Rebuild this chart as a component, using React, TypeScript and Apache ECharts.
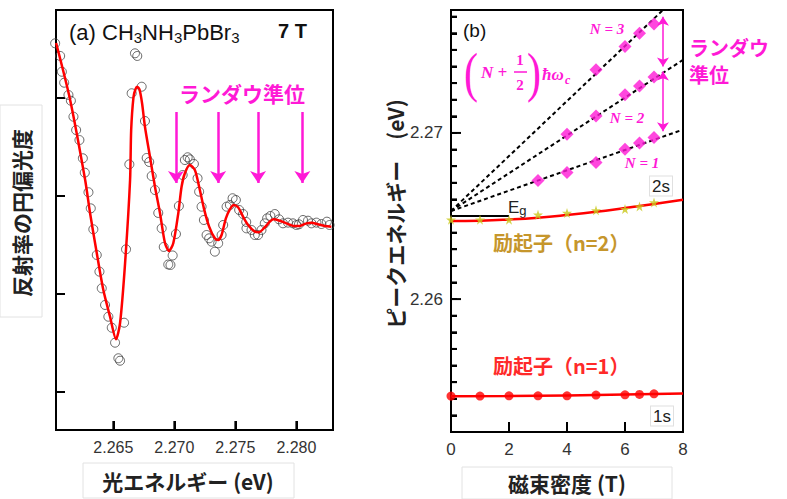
import React, { useEffect, useRef } from 'react';
import * as echarts from 'echarts';

// ---------- Panel (a): circular polarization of reflectance vs photon energy ----------
const aXTicks = [2.265, 2.27, 2.275, 2.28];
const aYTicks = [0, 1, 2, 3];
const aDataX = [
  2.26023, 2.26064, 2.26078, 2.26097, 2.26132, 2.26152, 2.26173, 2.26195, 2.26222, 2.2625,
  2.26266, 2.26296, 2.26315, 2.26336, 2.26364, 2.26386, 2.26405, 2.26432, 2.26459, 2.26487,
  2.26514, 2.26541, 2.26555, 2.26588, 2.26604, 2.26631, 2.2665, 2.26677, 2.26696, 2.26732,
  2.26759, 2.26773, 2.26794, 2.26814, 2.26841, 2.26868, 2.26896, 2.26913, 2.2695, 2.26968,
  2.26986, 2.27013, 2.27037, 2.27068, 2.27086, 2.27109, 2.27127, 2.2716, 2.2719, 2.27203,
  2.27223, 2.27242, 2.27264, 2.27285, 2.27305, 2.27332, 2.27359, 2.27387, 2.274, 2.27428,
  2.27455, 2.27477, 2.27504, 2.27531, 2.27563, 2.27589, 2.27591, 2.27632, 2.27659, 2.27686,
  2.27714, 2.27741, 2.2776, 2.27787, 2.27823, 2.27858, 2.2789, 2.27931, 2.27972, 2.28,
  2.28021, 2.28054, 2.28095, 2.28123, 2.28164, 2.28205, 2.2825, 2.28272,
];
const aDataY = [
  3.558, 3.429, 3.268, 3.156, 3.031, 2.972, 2.809, 2.673, 2.571, 2.385,
  2.238, 2.038, 1.874, 1.66, 1.398, 1.228, 1.058, 0.888, 0.768, 0.656,
  0.503, 0.344, 0.319, 0.707, 1.456, 2.323, 3.048, 3.456, 3.429, 3.115,
  2.765, 2.388, 2.347, 2.204, 2.061, 1.827, 1.67, 1.48, 1.301, 1.296,
  1.393, 1.612, 1.898, 2.214, 2.367, 2.395, 2.374, 2.327, 2.181, 2.044,
  1.891, 1.755, 1.602, 1.568, 1.534, 1.432, 1.517, 1.602, 1.704, 1.891,
  1.908, 1.977, 1.959, 1.857, 1.816, 1.735, 1.67, 1.653, 1.602, 1.602,
  1.653, 1.721, 1.772, 1.796, 1.816, 1.762, 1.721, 1.728, 1.721, 1.704,
  1.711, 1.755, 1.748, 1.721, 1.728, 1.714, 1.738, 1.704,
];
const aFitX = [
  2.26031, 2.26146, 2.26269, 2.26309, 2.26364, 2.26418, 2.26473, 2.26522, 2.26555, 2.26596,
  2.26637, 2.26646, 2.26665, 2.26682, 2.26696, 2.26714, 2.26735, 2.26759, 2.268, 2.26841,
  2.26882, 2.26923, 2.26956, 2.26991, 2.27032, 2.27059, 2.27086, 2.27127, 2.27168, 2.27203,
  2.27242, 2.27285, 2.27332, 2.27359, 2.27387, 2.27422, 2.27455, 2.27487, 2.27522, 2.27563,
  2.27604, 2.27659, 2.27694, 2.27741, 2.27782, 2.27809, 2.27863, 2.27918, 2.27986, 2.28027,
  2.28082, 2.28123, 2.28177, 2.28232, 2.28287,
];
const aFitY = [
  3.561, 2.98, 2.163, 1.827, 1.418, 1.041, 0.768, 0.538, 0.704, 1.313,
  2.163, 2.673, 3.01, 3.092, 3.115, 3.087, 2.949, 2.707, 2.401, 2.095,
  1.827, 1.52, 1.439, 1.517, 1.823, 2.095, 2.232, 2.316, 2.265, 2.095,
  1.874, 1.687, 1.568, 1.551, 1.602, 1.772, 1.864, 1.908, 1.885, 1.789,
  1.704, 1.636, 1.63, 1.681, 1.738, 1.762, 1.748, 1.721, 1.694, 1.694,
  1.721, 1.728, 1.711, 1.694, 1.687,
];
const aLandauArrowX = [2.27013, 2.27359, 2.27686, 2.28049];
const aLandauArrowY = [2.857, 2.133];

// ---------- Panel (b): peak energy vs magnetic field ----------
const bXTicks = [2, 4, 6];
const bYMajor = [2.26, 2.27];
const bYMinor = [
  2.253, 2.254, 2.255, 2.256, 2.257, 2.258, 2.259, 2.26, 2.261, 2.262, 2.263, 2.264,
  2.265, 2.266, 2.267, 2.268, 2.269, 2.27, 2.271, 2.272, 2.273, 2.274, 2.275, 2.276, 2.277,
];
const bField = [0, 1, 2, 3, 4, 5, 6, 6.5, 7];
const b1sE = [2.25416, 2.25416, 2.25418, 2.25418, 2.25418, 2.25422, 2.25424, 2.25426, 2.2543];
const b1sFitB = [0, 2, 4, 6, 8];
const b1sFitE = [2.25415, 2.25417, 2.2542, 2.25425, 2.25432];
const b2sE = [2.26478, 2.26478, 2.26478, 2.26508, 2.26518, 2.26534, 2.26542, 2.26558, 2.26582];
const b2sFitB = [0, 1, 2, 3, 4, 5, 6, 7, 8];
const b2sFitE = [2.2647, 2.26472, 2.26479, 2.2649, 2.26506, 2.26525, 2.26548, 2.26572, 2.26598];
const bN1B = [3, 4, 5, 6, 6.5, 7];
const bN1E = [2.26714, 2.26762, 2.26822, 2.26902, 2.2694, 2.26972];
const bN2B = [4, 5, 6, 6.5, 7];
const bN2E = [2.26992, 2.27102, 2.2723, 2.27282, 2.27336];
const bN3B = [5, 6, 6.5, 7];
const bN3E = [2.2738, 2.2752, 2.276, 2.27656];
const bLandauStart = [0, 2.2653];
const bLandauEndB = 8;
const bLandauEndE = [2.2702, 2.2744, 2.27854];
const bEg = 2.265;
const bEgEndB = 2;
const bArrowB = 7.31;
const bArrowSpans = [
  [2.277, 2.274],
  [2.2737, 2.2701],
];

const A_XMIN = 2.2603, A_XMAX = 2.283, A_YMIN = -0.388, A_YMAX = 3.898;
const B_XMIN = 0, B_XMAX = 8, B_YMIN = 2.252, B_YMAX = 2.2774;
const GRID_A = { left: 56, top: 10, width: 277, height: 420 };
const GRID_B = { left: 451, top: 10, width: 232, height: 422 };

const PINK = '#ff19d6';
const GOLD = '#c6962c';
const STAR = '#c9c81c';
const SANS = '"Liberation Sans", "Noto Sans CJK JP", sans-serif';
const CJK = '"Noto Sans CJK JP", "Liberation Sans", sans-serif';
const SERIF = '"Liberation Serif", "DejaVu Serif", serif';
const STAR_PATH =
  'path://M50,0 L61,35 L98,35 L68,57 L79,91 L50,70 L21,91 L32,57 L2,35 L39,35 Z';

const isMajor = (v: number) => bYMajor.some((m) => Math.abs(m - v) < 1e-7);

const zip = (xs: number[], ys: number[]) =>
  xs.slice(0, Math.min(xs.length, ys.length)).map((x, i) => [x, ys[i]]);

const txt = (x: number, y: number, text: string, style: any, extra: any = {}) => ({
  type: 'text',
  x,
  y,
  ...extra,
  style: { text, align: 'left', verticalAlign: 'middle', ...style },
});

// a tick drawn exactly like the E_g segment: a plain two-point line series
const tickLine = (xAxisIndex: number, yAxisIndex: number, p1: number[], p2: number[]) => ({
  type: 'line',
  xAxisIndex,
  yAxisIndex,
  showSymbol: false,
  lineStyle: { color: '#000', width: 2 },
  data: [p1, p2],
  z: 3,
});

export default function App() {
  const ref = useRef<HTMLDivElement>(null);

  useEffect(() => {
    if (!ref.current) return;
    const chart = echarts.init(ref.current, null, { renderer: 'svg' });

    const axisLine = { show: true, onZero: false, lineStyle: { color: '#000', width: 2 } };
    const tickStyle = { color: '#000', width: 2 };
    const labelStyle = { fontSize: 16, color: '#333', fontFamily: SANS };

    const aYPerPx = (A_YMAX - A_YMIN) / GRID_A.height;
    const bYPerPx = (B_YMAX - B_YMIN) / GRID_B.height;
    const bXPerPx = (B_XMAX - B_XMIN) / GRID_B.width;

    const tickSeries = [
      ...aXTicks.map((v) => tickLine(0, 0, [v, A_YMIN + 0.5 * aYPerPx], [v, A_YMIN + 9 * aYPerPx])),
      ...bXTicks.map((v) => tickLine(1, 1, [v, B_YMIN + 0.5 * bYPerPx], [v, B_YMIN + 10 * bYPerPx])),
      ...bYMinor.map((v) => tickLine(1, 1, [B_XMIN + 0.5 * bXPerPx, v], [B_XMIN + (isMajor(v) ? 10 : 6) * bXPerPx, v])),
    ];

    const graphics: any[] = [
      // label boxes
      { type: 'rect', shape: { x: 0, y: 105, width: 42, height: 212 }, style: { fill: 'none', stroke: '#e2e2e2', lineWidth: 1 } },
      { type: 'rect', shape: { x: 83, y: 463, width: 211, height: 35 }, style: { fill: 'none', stroke: '#e2e2e2', lineWidth: 1 } },
      { type: 'rect', shape: { x: 462, y: 467, width: 210, height: 32 }, style: { fill: 'none', stroke: '#e2e2e2', lineWidth: 1 } },
      // axis titles
      txt(21, 213, '反射率の円偏光度', { fontSize: 21, fontWeight: 'bold', fontFamily: CJK, fill: '#222', align: 'center' }, { rotation: Math.PI / 2 }),
      txt(188, 481, '光エネルギー (eV)', { fontSize: 21, fontWeight: 'bold', fontFamily: CJK, fill: '#222', align: 'center' }),
      txt(395, 214, 'ピークエネルギー　(eV)', { fontSize: 21, fontWeight: 'bold', fontFamily: CJK, fill: '#222', align: 'center' }, { rotation: Math.PI / 2 }),
      txt(567, 483, '磁束密度 (T)', { fontSize: 21, fontWeight: 'bold', fontFamily: CJK, fill: '#222', align: 'center' }),
      // panel (a) annotations
      txt(69, 32, '(a) CH{s|3}NH{s|3}PbBr{s|3}', {
        fontSize: 22, fontFamily: SANS, fill: '#111', lineHeight: 26,
        rich: { s: { fontSize: 15, fontFamily: SANS, fill: '#111', verticalAlign: 'bottom', lineHeight: 15 } },
      }),
      txt(278, 31, '7 T', { fontSize: 20, fontWeight: 'bold', fontFamily: SANS, fill: '#111' }),
      txt(242, 93, 'ランダウ準位', { fontSize: 21, fontWeight: 'bold', fontFamily: CJK, fill: PINK, align: 'center' }),
      // panel (b) annotations
      txt(463, 30, '(b)', { fontSize: 19, fontFamily: SANS, fill: '#111' }),
      txt(607, 29, 'N = 3', { fontSize: 15, fontWeight: 'bold', fontStyle: 'italic', fontFamily: SERIF, fill: PINK, align: 'center' }),
      txt(627, 118, 'N = 2', { fontSize: 15, fontWeight: 'bold', fontStyle: 'italic', fontFamily: SERIF, fill: PINK, align: 'center' }),
      txt(642, 163, 'N = 1', { fontSize: 15, fontWeight: 'bold', fontStyle: 'italic', fontFamily: SERIF, fill: PINK, align: 'center' }),
      txt(471, 73, '(', { fontSize: 42, fontFamily: SERIF, fill: PINK, align: 'center' }, { scaleY: 1.3 }),
      txt(481, 72, 'N +', { fontSize: 17, fontWeight: 'bold', fontStyle: 'italic', fontFamily: SERIF, fill: PINK }),
      txt(520, 60, '1', { fontSize: 15, fontWeight: 'bold', fontFamily: SERIF, fill: PINK, align: 'center' }),
      { type: 'line', shape: { x1: 514, y1: 72, x2: 527, y2: 72 }, style: { stroke: PINK, lineWidth: 1.5 } },
      txt(520, 85, '2', { fontSize: 15, fontWeight: 'bold', fontFamily: SERIF, fill: PINK, align: 'center' }),
      txt(534, 73, ')', { fontSize: 42, fontFamily: SERIF, fill: PINK, align: 'center' }, { scaleY: 1.3 }),
      txt(542, 74, 'ħω', { fontSize: 17, fontWeight: 'bold', fontStyle: 'italic', fontFamily: SERIF, fill: PINK }),
      txt(565, 80, 'c', { fontSize: 12, fontWeight: 'bold', fontStyle: 'italic', fontFamily: SERIF, fill: PINK }),
      txt(689, 61, 'ランダウ\n準位', { fontSize: 20, fontWeight: 'bold', fontFamily: CJK, fill: PINK, lineHeight: 27 }),
      txt(661, 186, '2s', { fontSize: 17, fontFamily: SANS, fill: '#222', align: 'center', backgroundColor: '#fff', borderColor: '#e0e0e0', borderWidth: 1, padding: [1, 2] }),
      txt(662, 416, '1s', { fontSize: 17, fontFamily: SANS, fill: '#222', align: 'center', backgroundColor: '#fff', borderColor: '#e0e0e0', borderWidth: 1, padding: [1, 2] }),
      txt(493, 242, '励起子（n=2）', { fontSize: 20, fontWeight: 'bold', fontFamily: CJK, fill: GOLD }),
      txt(493, 365, '励起子（n=1）', { fontSize: 20, fontWeight: 'bold', fontFamily: CJK, fill: '#ff2a2a' }),
      txt(508, 207, 'E{g|g}', {
        fontSize: 17, fontFamily: SANS, fill: '#222', lineHeight: 20,
        rich: { g: { fontSize: 13, fontFamily: SANS, fill: '#222', verticalAlign: 'bottom', lineHeight: 12 } },
      }),
    ];

    const option: any = {
      animation: false,
      backgroundColor: '#fff',
      grid: [
        { ...GRID_A, show: true, borderColor: '#000', borderWidth: 2, backgroundColor: 'transparent' },
        { ...GRID_B, show: true, borderColor: '#000', borderWidth: 2, backgroundColor: 'transparent' },
      ],
      xAxis: [
        {
          gridIndex: 0, type: 'value', min: A_XMIN, max: A_XMAX,
          axisLine,
          axisTick: { show: true, customValues: aXTicks, inside: true, length: 9, lineStyle: tickStyle },
          axisLabel: { customValues: aXTicks, formatter: (v: number) => v.toFixed(3), margin: 9, ...labelStyle },
          splitLine: { show: false },
        },
        {
          gridIndex: 1, type: 'value', min: B_XMIN, max: B_XMAX, interval: 2,
          axisLine,
          axisTick: { show: true, inside: true, length: 10, lineStyle: tickStyle },
          axisLabel: { margin: 9, ...labelStyle, fontSize: 17 },
          splitLine: { show: false },
        },
      ],
      yAxis: [
        {
          gridIndex: 0, type: 'value', min: A_YMIN, max: A_YMAX,
          axisLine,
          axisTick: { show: true, customValues: aYTicks, inside: true, length: 9, lineStyle: tickStyle },
          axisLabel: { show: false },
          splitLine: { show: false },
        },
        {
          gridIndex: 1, type: 'value', min: B_YMIN, max: B_YMAX, interval: 0.001,
          axisLine,
          axisTick: { show: true, inside: true, length: 6, lineStyle: tickStyle },
          axisLabel: {
            margin: 8, ...labelStyle, fontSize: 17,
            formatter: (v: number) => (isMajor(v) ? v.toFixed(2) : ''),
          },
          splitLine: { show: false },
        },
      ],
      series: [
        {
          type: 'scatter', xAxisIndex: 0, yAxisIndex: 0, clip: false,
          symbol: 'circle', symbolSize: 9,
          itemStyle: { color: 'rgba(0,0,0,0)', borderColor: '#444', borderWidth: 1 },
          data: zip(aDataX, aDataY), z: 2,
        },
        {
          type: 'line', xAxisIndex: 0, yAxisIndex: 0, clip: false,
          smooth: 0.25, showSymbol: false,
          lineStyle: { color: '#ff0000', width: 2.5 },
          data: zip(aFitX, aFitY), z: 3,
          markLine: {
            silent: true, symbol: ['none', 'arrow'], symbolSize: 12,
            label: { show: false },
            lineStyle: { color: PINK, width: 2.5, type: 'solid' },
            data: aLandauArrowX.map((x) => [
              { coord: [x, aLandauArrowY[0]] },
              { coord: [x, aLandauArrowY[1]] },
            ]),
          },
        },
        ...tickSeries,
        // Panel (b)
        ...bLandauEndE.map((e, i) => ({
          type: 'line', xAxisIndex: 1, yAxisIndex: 1, showSymbol: false, clip: true,
          lineStyle: { color: '#000', width: 2, type: [4, 3] },
          data: [bLandauStart, [bLandauEndB, e]], z: 2,
          markLine: i === 0 ? {
            silent: true, symbol: ['arrow', 'arrow'], symbolSize: 9,
            label: { show: false },
            lineStyle: { color: PINK, width: 1.5, type: 'solid' },
            data: bArrowSpans.map((s) => [
              { coord: [bArrowB, s[0]] },
              { coord: [bArrowB, s[1]] },
            ]),
          } : undefined,
        })),
        {
          type: 'line', xAxisIndex: 1, yAxisIndex: 1, showSymbol: false,
          lineStyle: { color: '#000', width: 2 },
          data: [[0, bEg], [bEgEndB, bEg]], z: 3,
        },
        {
          type: 'line', xAxisIndex: 1, yAxisIndex: 1, showSymbol: false, smooth: true,
          lineStyle: { color: '#ff0000', width: 2.5 },
          data: zip(b2sFitB, b2sFitE), z: 3,
        },
        {
          type: 'line', xAxisIndex: 1, yAxisIndex: 1, showSymbol: false, smooth: true,
          lineStyle: { color: '#ff0000', width: 2.5 },
          data: zip(b1sFitB, b1sFitE), z: 3,
        },
        {
          type: 'scatter', xAxisIndex: 1, yAxisIndex: 1, clip: false,
          symbol: STAR_PATH, symbolSize: 10, itemStyle: { color: STAR },
          data: zip(bField, b2sE), z: 4,
        },
        {
          type: 'scatter', xAxisIndex: 1, yAxisIndex: 1, clip: false,
          symbol: 'circle', symbolSize: 9, itemStyle: { color: '#ff0000' },
          data: zip(bField, b1sE), z: 4,
        },
        ...[zip(bN1B, bN1E), zip(bN2B, bN2E), zip(bN3B, bN3E)].map((d) => ({
          type: 'scatter', xAxisIndex: 1, yAxisIndex: 1,
          symbol: 'diamond', symbolSize: 13, itemStyle: { color: PINK },
          data: d, z: 4,
        })),
      ],
      graphic: graphics,
    };

    chart.setOption(option);
    return () => chart.dispose();
  }, []);

  return (
    <div
      ref={ref}
      style={{ position: 'fixed', left: 0, top: 0, width: 787, height: 499, background: '#fff' }}
    />
  );
}
